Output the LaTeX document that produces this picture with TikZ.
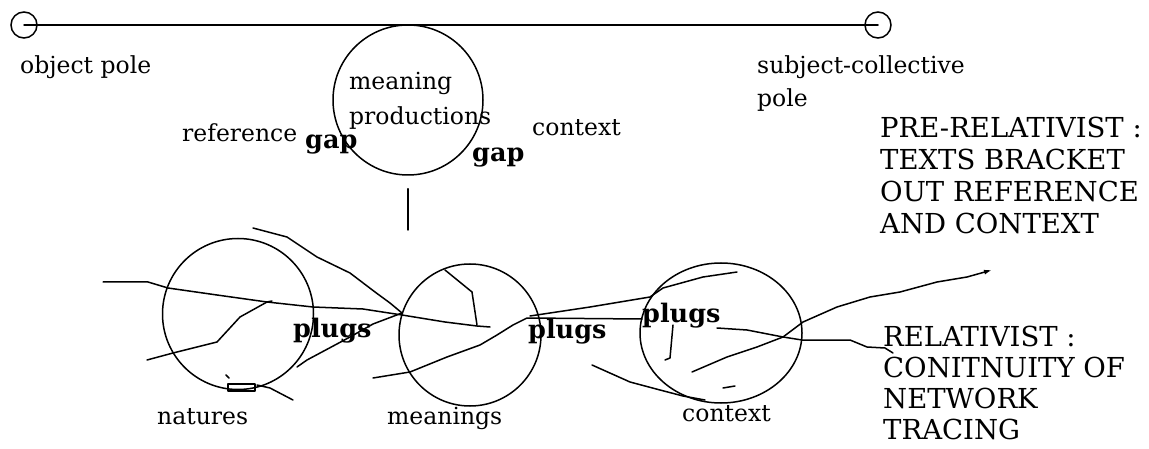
\documentclass[tikz,border=0pt]{standalone}
\usepackage{fontspec}
\setmainfont{DejaVu Serif}
\usetikzlibrary{shapes.geometric,arrows.meta}
\tikzset{
  txt/.style={inner sep=0pt, anchor=base west, font=\fontsize{23.5}{33}\selectfont},
  bld/.style={inner sep=0pt, anchor=base west, font=\fontsize{25.5}{30}\selectfont\bfseries},
  caps/.style={inner sep=0pt, anchor=base west, font=\fontsize{27.5}{32}\selectfont},
  ring/.style={draw, circle, inner sep=0pt, line width=1.5pt},
  oval/.style={draw, ellipse, inner sep=0pt, line width=1.5pt},
  scrib/.style={line width=1.5pt, line join=round, line cap=round},
}
\begin{document}
\begin{tikzpicture}[x=1pt,y=-1pt]
\useasboundingbox[fill=white] (0,0) rectangle (1149,449);
% poles
\node[ring, minimum size=26pt] (op) at (24,25) {};
\node[ring, minimum size=26pt] (sp) at (878,25) {};
\draw[scrib] (op.center) -- (sp.center);
\node[txt] (opl) at (20,74) {object pole};
\node[txt] (spl1) at (757,74) {subject-collective};
\node[txt] (spl2) at (757,107) {pole};
% meaning productions
\node[ring, minimum size=150pt] (mp) at (408,100) {};
\node[txt] (mpt1) at (349,90) {meaning};
\node[txt] (mpt2) at (349,125) {productions};
\node[txt] (ref) at (182,142) {reference};
\node[bld] (gap1) at (305,149) {gap};
\node[txt] (ctx1) at (532,136) {context};
\node[bld] (gap2) at (472,162) {gap};
\coordinate (vend) at (408,230);
\draw[scrib] ([yshift=-13pt]mp.south) -- (vend);
% right texts
\node[caps] (pr1) at (880,138) {PRE-RELATIVIST :};
\node[caps] (pr2) at (880,170) {TEXTS BRACKET};
\node[caps] (pr3) at (880,202) {OUT REFERENCE};
\node[caps] (pr4) at (880,234) {AND CONTEXT};
\node[caps] (r1) at (883,346) {RELATIVIST :};
\node[caps] (r2) at (883,377) {CONITNUITY OF};
\node[caps] (r3) at (883,408) {NETWORK};
\node[caps] (r4) at (883,439) {TRACING};
% lower circles
\node[ring, minimum size=151pt] (nc) at (238,314) {};
\node[ring, minimum size=142pt] (mc) at (470,335) {};
\node[oval, minimum width=162pt, minimum height=140pt] (cc) at (721,333) {};
\node[txt] (ncl) at (157,424) {natures};
\node[txt] (mcl) at (387,424) {meanings};
\node[txt] (ccl) at (682,421) {context};
% scribbled network lines
\draw[scrib] (103,282) -- (148,282) -- (168,288) -- (217,295) -- (267,302) -- (313,307) -- (363,309) -- (402,315) -- (445,322) -- (477,326) -- (490,327);
\draw[scrib] (445,270) -- (472,292) -- (477,325);
\draw[scrib] (253,228) -- (287,237) -- (317,257) -- (350,273) -- (375,292) -- (390,303) -- (402,313);
\draw[scrib] (147,360) -- (173,353) -- (217,342) -- (240,317) -- (267,302) -- (272,301);
\draw[scrib] (402,313) -- (373,324) -- (350,337) -- (307,360) -- (297,367);
\draw[scrib] (257,385) -- (270,388) -- (293,400);
\draw[scrib] (228,384) rectangle (255,391);
\draw[scrib] (226,375) -- (229,378);
\draw[scrib] (373,378) -- (410,372) -- (447,357) -- (480,345) -- (497,335) -- (513,325) -- (527,318) -- (642,319);
\draw[scrib] (530,316) -- (590,307) -- (650,297) -- (663,288) -- (703,277) -- (737,272);
\draw[scrib] (717,328) -- (747,330) -- (783,337) -- (802,340) -- (850,340) -- (867,347) -- (885,348) -- (893,353);
\draw[scrib, -{Latex[length=8pt,width=5pt]}] (692,372) -- (727,357) -- (757,347) -- (783,337) -- (803,322) -- (837,307) -- (870,297) -- (900,292) -- (937,282) -- (967,277) -- (992,270);
\draw[scrib] (673,325) -- (670,358) -- (665,360);
\draw[scrib] (723,388) -- (735,386);
\draw[scrib] (592,365) -- (630,382) -- (660,390) -- (683,396) -- (705,400);
% plugs
\node[bld] (pl1) at (293,337) {plugs};
\node[bld] (pl2) at (528,338) {plugs};
\node[bld] (pl3) at (642,323) {plugs};
\end{tikzpicture}
\end{document}
